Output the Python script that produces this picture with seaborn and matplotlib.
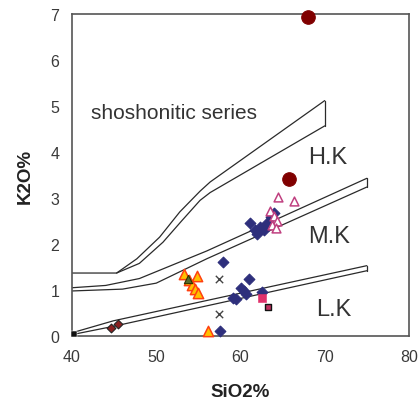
import matplotlib
matplotlib.use("Agg")
import matplotlib.pyplot as plt
import seaborn as sns
import pandas as pd

# ---- boundary bands (Peccerillo & Taylor style) ----
shosh_upper_x = [40, 45.3, 47.7, 50.4, 52.8, 55.2, 56.4, 70]
shosh_upper_y = [1.37, 1.37, 1.68, 2.15, 2.7, 3.15, 3.35, 5.12]
shosh_lower_x = [45.3, 48, 50.8, 53, 55.2, 56.4, 70]
shosh_lower_y = [1.37, 1.58, 2.04, 2.5, 2.95, 3.12, 4.57]

hk_upper_x = [40, 44, 48, 56, 75]
hk_upper_y = [1.05, 1.1, 1.25, 1.85, 3.43]
hk_lower_x = [40, 46, 50, 56, 75]
hk_lower_y = [0.98, 1.02, 1.15, 1.68, 3.24]

lk_upper_x = [40, 44.9, 75]
lk_upper_y = [0.07, 0.33, 1.53]
lk_lower_x = [40, 44.9, 75]
lk_lower_y = [0.03, 0.21, 1.42]

# ---- samples ----
circ_x = [68.0, 65.8]
circ_y = [6.93, 3.41]
ptri_x = [64.5, 66.3, 63.5, 64.0, 64.3, 63.8, 64.2]
ptri_y = [3.02, 2.94, 2.72, 2.62, 2.5, 2.42, 2.35]
dia_x = [61.1, 61.7, 62.3, 62.8, 63.2, 63.6, 64.0, 62.0, 57.9, 61.0, 60.1, 60.7,
         59.1, 62.6, 57.6, 60.4, 59.5]
dia_y = [2.45, 2.3, 2.38, 2.3, 2.45, 2.58, 2.68, 2.22, 1.6, 1.25, 1.04, 0.91,
         0.82, 0.96, 0.12, 0.98, 0.8]
otri_x = [53.3, 53.9, 54.8, 54.2, 54.6, 54.9, 56.1]
otri_y = [1.35, 1.22, 1.3, 1.1, 1.02, 0.94, 0.12]
olive_x = [53.8]
olive_y = [1.24]
cross_x = [57.4, 57.5]
cross_y = [1.25, 0.48]
psq_x = [62.6]
psq_y = [0.82]
dsq_x = [63.3]
dsq_y = [0.64]
brown_x = [44.6, 45.5]
brown_y = [0.18, 0.27]
blk_x = [40.2]
blk_y = [0.05]

sns.set_style("white")
plt.rcParams['font.family'] = ['Liberation Sans', 'DejaVu Sans']

fig = plt.figure(figsize=(4.19, 4.10), dpi=100)
ax = fig.add_axes([0.1718, 0.178, 0.8042, 0.785])

lc = "#2a2a2a"
lw = 0.9
# shoshonitic band
ax.plot(shosh_upper_x, shosh_upper_y, color=lc, lw=lw)
ax.plot(shosh_lower_x, shosh_lower_y, color=lc, lw=lw)
ax.plot([shosh_upper_x[-1], shosh_lower_x[-1]], [shosh_upper_y[-1], shosh_lower_y[-1]], color=lc, lw=lw)
# H.K / M.K band
ax.plot(hk_upper_x, hk_upper_y, color=lc, lw=lw)
ax.plot(hk_lower_x, hk_lower_y, color=lc, lw=lw)
ax.plot([hk_upper_x[-1], hk_lower_x[-1]], [hk_upper_y[-1], hk_lower_y[-1]], color=lc, lw=lw)
# M.K / L.K band
ax.plot(lk_upper_x, lk_upper_y, color=lc, lw=lw)
ax.plot(lk_lower_x, lk_lower_y, color=lc, lw=lw)
ax.plot([lk_upper_x[-1], lk_lower_x[-1]], [lk_upper_y[-1], lk_lower_y[-1]], color=lc, lw=lw)

kw = dict(ax=ax, legend=False, clip_on=False, zorder=3)
sns.scatterplot(x=dia_x, y=dia_y, marker="D", s=30, color="#2e2f7c", edgecolor="#2e2f7c", linewidth=0.8, **kw)
sns.scatterplot(x=ptri_x, y=ptri_y, marker="^", s=40, facecolor="white", edgecolor="#c04080", linewidth=1.1, **kw)
sns.scatterplot(x=otri_x, y=otri_y, marker="^", s=55, color="#ffc000", edgecolor="#ff4010", linewidth=1.1, **kw)
sns.scatterplot(x=olive_x, y=olive_y, marker="^", s=35, color="#556b2f", edgecolor="#333300", linewidth=0.8, **kw)
sns.scatterplot(x=cross_x, y=cross_y, marker="x", s=28, color="#444444", linewidth=1.0, **kw)
sns.scatterplot(x=psq_x, y=psq_y, marker="s", s=26, color="#e0306a", edgecolor="#e0306a", **kw)
sns.scatterplot(x=dsq_x, y=dsq_y, marker="s", s=20, color="#c03060", edgecolor="#111111", linewidth=1.0, **kw)
sns.scatterplot(x=brown_x, y=brown_y, marker="D", s=20, color="#8b2020", edgecolor="#222222", linewidth=0.8, **kw)
sns.scatterplot(x=blk_x, y=blk_y, marker="s", s=20, color="#111111", **kw)
sns.scatterplot(x=circ_x, y=circ_y, marker="o", s=95, color="#800000", edgecolor="#800000", **kw)

ax.set_xlim(40, 80)
ax.set_ylim(0, 7)
ax.set_xticks([40, 50, 60, 70, 80])
ax.set_yticks(range(0, 8))
ax.tick_params(direction="out", length=4, width=1, color="#555555",
               labelsize=11.5, labelcolor="#3a3a3a", pad=5)
for sp in ax.spines.values():
    sp.set_visible(True)
    sp.set_color("#555555")
    sp.set_linewidth(1.2)

ax.set_xlabel("SiO2%", fontsize=13.5, fontweight="bold", color="#222222", labelpad=14)
ax.set_ylabel("K2O%", fontsize=13.5, fontweight="bold", color="#222222", labelpad=12)

tc = "#333333"
ax.text(42.2, 4.87, "shoshonitic series", fontsize=15, color=tc, va="center", ha="left")
ax.text(68.0, 3.9, "H.K", fontsize=17, color=tc, va="center", ha="left")
ax.text(68.0, 2.17, "M.K", fontsize=17, color=tc, va="center", ha="left")
ax.text(69.0, 0.58, "L.K", fontsize=17, color=tc, va="center", ha="left")

fig.savefig("out.png", dpi=100)
